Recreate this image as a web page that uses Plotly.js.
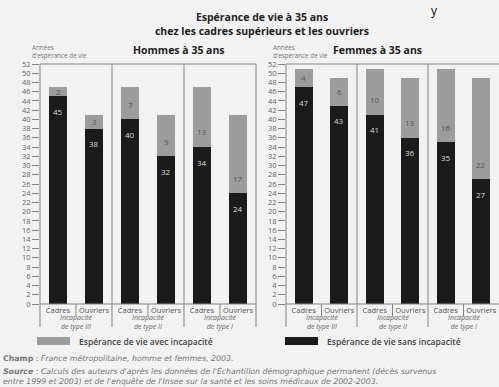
<!DOCTYPE html>
<html><head><meta charset="utf-8">
<script src="https://cdn.plot.ly/plotly-3.0.1.min.js"></script>
<style>html,body{margin:0;padding:0;background:#f2f2f2}</style>
</head><body><div id="chart" style="width:499px;height:387px"></div>
<script>
const categories = ['Cadres', 'Ouvriers'];
const groups = ['Incapacité<br>de type III', 'Incapacité<br>de type II', 'Incapacité<br>de type I'];
const groupKeys = ['III', 'II', 'I'];
const hommesSans = [45, 38, 40, 32, 34, 24];
const hommesAvec = [2, 3, 7, 9, 13, 17];
const femmesSans = [47, 43, 41, 36, 35, 27];
const femmesAvec = [4, 6, 10, 13, 16, 22];
const seriesNames = ['Espérance de vie avec incapacité', 'Espérance de vie sans incapacité'];
const panelTitles = ['Hommes à 35 ans', 'Femmes à 35 ans'];
const axisHeader = 'Années<br>d\'espérance de vie';

const keys = [], tickText = [];
groupKeys.forEach(g => categories.forEach(c => { keys.push(g + ' ' + c); tickText.push(c); }));

const W = 499, H = 387;
const py = p => 1 - p / H;
const px = p => p / W;
const yTop = 64, yBot = 304, yLow = 327;
const FONT = 'Open Sans, Liberation Sans, sans-serif';
const NOTEFONT = 'DejaVu Sans, sans-serif';
const DARK = '#1b1b1b', GRAY = '#9c9c9c', LINE = '#858585';
const domains = [[px(40), px(256)], [px(286), 1]];
const panels = [[hommesSans, hommesAvec], [femmesSans, femmesAvec]];

const traces = [], annotations = [], shapes = [];
const layout = {
  width: W, height: H, margin: {l: 0, r: 0, t: 0, b: 0},
  paper_bgcolor: '#f2f2f2', plot_bgcolor: '#f2f2f2',
  barmode: 'stack', showlegend: false, bargap: 0.5,
  font: {family: FONT, color: '#555'},
  title: {text: '<b>Espérance de vie à 35 ans<br>chez les cadres supérieurs et les ouvriers</b>',
    x: px(262), xanchor: 'center', y: py(21), yanchor: 'middle', yref: 'container',
    font: {family: FONT, size: 10.5, color: '#222'}}
};

panels.forEach((pd, i) => {
  const xa = i === 0 ? 'x' : 'x2', ya = i === 0 ? 'y' : 'y2';
  const [sans, avec] = pd;
  traces.push({type: 'bar', x: keys, y: sans, xaxis: xa, yaxis: ya, name: seriesNames[1],
    marker: {color: DARK, line: {width: 0}}, hoverinfo: 'skip'});
  traces.push({type: 'bar', x: keys, y: avec, xaxis: xa, yaxis: ya, name: seriesNames[0],
    marker: {color: GRAY, line: {width: 0}}, hoverinfo: 'skip'});
  const axKey = i === 0 ? '' : '2';
  layout['xaxis' + axKey] = {domain: domains[i], type: 'category', categoryarray: keys,
    tickvals: keys, ticktext: tickText, range: [-0.5, 5.5], showline: false, showgrid: false,
    zeroline: false, ticks: '', anchor: ya, fixedrange: true,
    tickfont: {family: FONT, size: 7.5, color: '#555'}};
  layout['yaxis' + axKey] = {domain: [py(yBot), py(yTop)], range: [0, 52], tick0: 0, dtick: 2,
    ticks: 'outside', ticklen: 7, tickwidth: 1, tickcolor: LINE, showgrid: false,
    zeroline: false, showline: false, anchor: xa, fixedrange: true,
    tickfont: {family: FONT, size: 7.5, color: '#666'}};
  const xd = xa + ' domain';
  const vlines = i === 0 ? [0, 1/3, 2/3, 1] : [0, 1/3, 2/3];
  vlines.forEach(v => shapes.push({type: 'line', xref: xd, yref: 'paper', x0: v, x1: v,
    y0: py(yTop), y1: py(yLow), line: {color: LINE, width: 1}}));
  [yTop, yBot].forEach(h => shapes.push({type: 'line', xref: xd, yref: 'paper', x0: 0, x1: 1,
    y0: py(h), y1: py(h), line: {color: LINE, width: 1}}));
  [1/6, 3/6, 5/6].forEach(v => shapes.push({type: 'line', xref: xd, yref: 'paper', x0: v, x1: v,
    y0: py(yBot), y1: py(316), line: {color: LINE, width: 1}}));
  keys.forEach((k, j) => {
    annotations.push({xref: xa, yref: ya, x: k, y: sans[j], yshift: -15, text: String(sans[j]),
      showarrow: false, font: {family: FONT, size: 8, color: '#d8d8d8'}});
    annotations.push({xref: xa, yref: ya, x: k, y: sans[j] + Math.min(3.3, avec[j] / 2),
      text: String(avec[j]), showarrow: false, font: {family: FONT, size: 8, color: '#555'}});
  });
  groups.forEach((g, j) => annotations.push({xref: xa, yref: 'paper', x: 2 * j + 0.5, y: py(322),
    text: '<i>' + g + '</i>', showarrow: false, yanchor: 'middle',
    font: {family: FONT, size: 7, color: '#666'}}));
  annotations.push({xref: 'paper', yref: 'paper', x: i === 0 ? px(179) : px(424), y: py(50),
    text: '<b>' + panelTitles[i] + '</b>', showarrow: false, yanchor: 'middle',
    font: {family: FONT, size: 10.5, color: '#222'}});
  annotations.push({xref: 'paper', yref: 'paper', x: i === 0 ? px(30) : px(271), y: py(51),
    text: axisHeader, showarrow: false, xanchor: 'left', yanchor: 'middle', align: 'left',
    font: {family: FONT, size: 6.3, color: '#777'}});
});

[[37, GRAY, seriesNames[0]], [285, DARK, seriesNames[1]]].forEach(([x0, c, t]) => {
  shapes.push({type: 'rect', xref: 'paper', yref: 'paper', x0: px(x0), x1: px(x0 + 33),
    y0: py(345), y1: py(337), fillcolor: c, line: {width: 0}});
  annotations.push({xref: 'paper', yref: 'paper', x: px(x0 + 40), y: py(341), text: t,
    showarrow: false, xanchor: 'left', yanchor: 'middle',
    font: {family: FONT, size: 8.5, weight: 600, color: '#444'}});
});

annotations.push({xref: 'paper', yref: 'paper', x: px(1), y: py(358), xanchor: 'left', yanchor: 'middle',
  showarrow: false, align: 'left', text: '<b>Champ</b> : <i>France métropolitaine, homme et femmes, 2003.</i>',
  font: {family: NOTEFONT, size: 7.8, color: '#777'}});
annotations.push({xref: 'paper', yref: 'paper', x: px(1), y: py(376), xanchor: 'left', yanchor: 'middle',
  showarrow: false, align: 'left',
  text: '<b><i>Source</i></b> : <i>Calculs des auteurs d\'après les données de l\'Échantillon démographique permanent (décès survenus<br>entre 1999 et 2003) et de l\'enquête de l\'Insee sur la santé et les soins médicaux de 2002-2003.</i>',
  font: {family: NOTEFONT, size: 7.8, color: '#777'}});
annotations.push({xref: 'paper', yref: 'paper', x: px(434), y: 1, xanchor: 'center', yanchor: 'top',
  showarrow: false, text: 'y', font: {family: FONT, size: 12, color: '#111'}});

layout.shapes = shapes;
layout.annotations = annotations;
Plotly.newPlot('chart', traces, layout, {staticPlot: true, displayModeBar: false});
</script></body></html>
